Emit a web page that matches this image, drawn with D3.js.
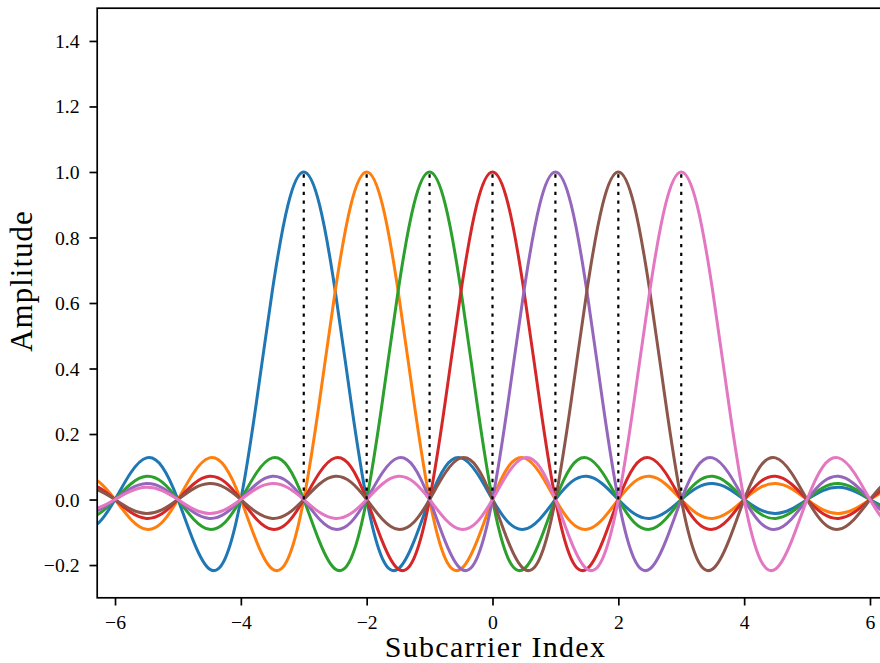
<!DOCTYPE html>
<html>
<head>
<meta charset="utf-8">
<script src="https://cdn.jsdelivr.net/npm/d3@7"></script>
<style>
  html, body { margin: 0; padding: 0; background: #fff; }
  svg { display: block; }
  text { font-family: "Liberation Serif", "Times New Roman", serif; fill: #000; }
</style>
</head>
<body>
<svg id="chart" width="880" height="663"></svg>
<script>
// Subcarrier centre frequencies (normalised index) and their colours
const subcarriers = [-3, -2, -1, 0, 1, 2, 3];
const colors = ["#1f77b4", "#ff7f0e", "#2ca02c", "#d62728", "#9467bd", "#8c564b", "#e377c2"];

// Sinc pulse shape: amplitude at offsets 0, 0.25, 0.5, ... 10 from a subcarrier centre
const pulseStep = 0.25;
const pulseHalf = [
  1.00000, 0.90032, 0.63662, 0.30011, 0.00000, -0.18006, -0.21221, -0.12862,
  0.00000, 0.10004, 0.12732, 0.08185, 0.00000, -0.06926, -0.09095, -0.06002,
  0.00000, 0.05296, 0.07074, 0.04739, 0.00000, -0.04287, -0.05787, -0.03914,
  0.00000, 0.03601, 0.04897, 0.03335, 0.00000, -0.03105, -0.04244, -0.02904,
  0.00000, 0.02728, 0.03745, 0.02572, 0.00000, -0.02433, -0.03351, -0.02308,
  0.00000
];

// Axis ranges and ticks
const xDomain = [-6.2832, 6.2832];
const yDomain = [-0.3, 1.5];
const xTicks = [-6, -4, -2, 0, 2, 4, 6];
const yTicks = [-0.2, 0.0, 0.2, 0.4, 0.6, 0.8, 1.0, 1.2, 1.4];
const xLabel = "Subcarrier Index";
const yLabel = "Amplitude";

// Full symmetric pulse: offsets -10 .. 10
const pulse = [];
for (let i = pulseHalf.length - 1; i > 0; i--) pulse.push([-i * pulseStep, pulseHalf[i]]);
for (let i = 0; i < pulseHalf.length; i++) pulse.push([i * pulseStep, pulseHalf[i]]);

const svg = d3.select("#chart");
const plotLeft = 97.2, plotRight = 887.8, plotTop = 8.2, plotBottom = 597.8;

const x = d3.scaleLinear().domain(xDomain).range([plotLeft, plotRight]);
const y = d3.scaleLinear().domain(yDomain).range([plotBottom, plotTop]);

svg.append("defs").append("clipPath").attr("id", "plotclip")
  .append("rect").attr("x", plotLeft).attr("y", plotTop)
  .attr("width", plotRight - plotLeft).attr("height", plotBottom - plotTop);

const plot = svg.append("g").attr("clip-path", "url(#plotclip)");

const line = d3.line()
  .x(d => x(d[0]))
  .y(d => y(d[1]))
  .curve(d3.curveNatural);

subcarriers.forEach((c, i) => {
  plot.append("path")
    .datum(pulse.map(p => [c + p[0], p[1]]))
    .attr("d", line)
    .attr("fill", "none")
    .attr("stroke", colors[i])
    .attr("stroke-width", 3)
    .attr("stroke-linejoin", "round");
});

// Dotted stems marking each subcarrier peak
plot.selectAll("line.stem")
  .data(subcarriers)
  .join("line")
  .attr("class", "stem")
  .attr("x1", d => x(d)).attr("x2", d => x(d))
  .attr("y1", y(0)).attr("y2", y(1))
  .attr("stroke", "#000")
  .attr("stroke-width", 2.2)
  .attr("stroke-dasharray", "3.3,5.4");

// Axes
const fontTick = "19.7px";
const xAxis = d3.axisBottom(x).tickValues(xTicks).tickSize(7.7).tickPadding(9)
  .tickFormat(d => d < 0 ? "\u2212" + Math.abs(d) : String(d));
const yAxis = d3.axisLeft(y).tickValues(yTicks).tickSize(7.7).tickPadding(10)
  .tickFormat(d => {
    const s = Math.abs(d).toFixed(1);
    return d < -1e-9 ? "\u2212" + s : s;
  });

const gx = svg.append("g").attr("transform", `translate(0,${plotBottom})`).call(xAxis);
const gy = svg.append("g").attr("transform", `translate(${plotLeft},0)`).call(yAxis);

[gx, gy].forEach(g => {
  g.select(".domain").remove();
  g.selectAll(".tick line").attr("stroke", "#000").attr("stroke-width", 1.7);
  g.selectAll(".tick text").attr("font-size", fontTick)
    .attr("font-family", "'Liberation Serif', serif").attr("fill", "#000");
});
gy.selectAll(".tick text").attr("dy", "0.33em");
gx.selectAll(".tick text").attr("dy", "0.72em");

// Frame
svg.append("rect")
  .attr("x", plotLeft).attr("y", plotTop)
  .attr("width", plotRight - plotLeft).attr("height", plotBottom - plotTop)
  .attr("fill", "none").attr("stroke", "#000").attr("stroke-width", 1.7);

// Axis titles
svg.append("text")
  .attr("x", 495.5).attr("y", 657)
  .attr("text-anchor", "middle")
  .attr("font-size", "30px")
  .attr("letter-spacing", "1.3px")
  .text(xLabel);

svg.append("text")
  .attr("transform", "translate(32,281) rotate(-90)")
  .attr("text-anchor", "middle")
  .attr("font-size", "31px")
  .attr("letter-spacing", "1px")
  .text(yLabel);
</script>
</body>
</html>
